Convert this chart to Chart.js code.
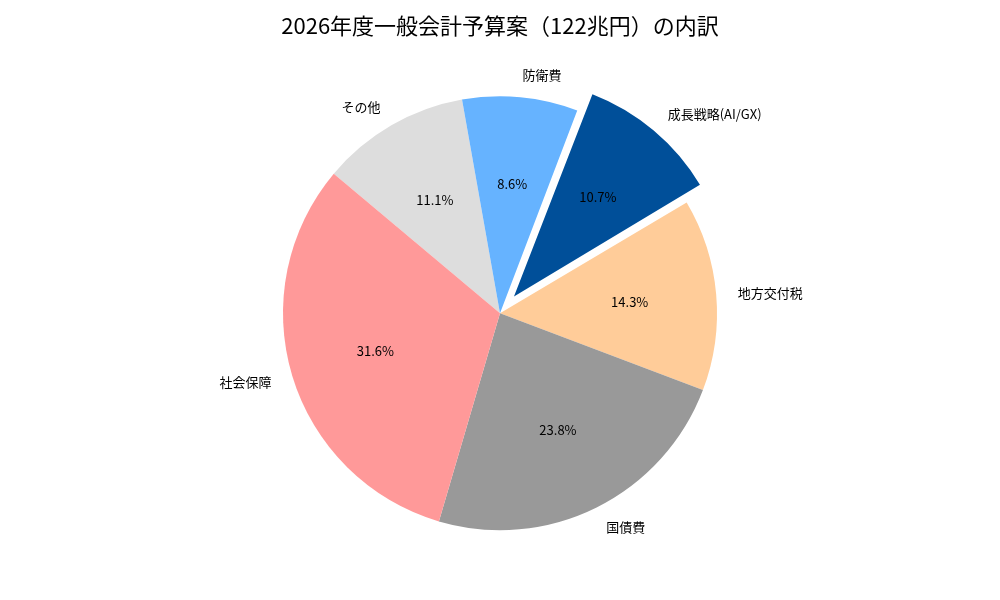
<!DOCTYPE html>
<html lang="ja">
<head>
<meta charset="utf-8">
<script src="https://cdn.jsdelivr.net/npm/chart.js@4.4.1/dist/chart.umd.min.js"></script>
<style>
  html, body { margin: 0; padding: 0; background: #fff; }
  #wrap { width: 1000px; height: 600px; }
</style>
</head>
<body>
<div id="wrap"><canvas id="budgetPie"></canvas></div>
<script>
  // 予算の内訳（%）
  const categories = ['社会保障', '国債費', '地方交付税', '成長戦略(AI/GX)', '防衛費', 'その他'];
  const shares = [31.6, 23.8, 14.3, 10.7, 8.6, 11.1];
  const exploded = ['成長戦略(AI/GX)'];

  const colors = ['#ff9999', '#999999', '#ffcc99', '#004f99', '#66b3ff', '#dddddd'];
  const FONT = '"Noto Sans CJK JP", "Noto Sans", sans-serif';
  const RADIUS = 217;
  const SHIFT = 0.1 * RADIUS; // explode distance

  // matplotlib draws counter-clockwise, Chart.js clockwise -> reverse order
  const labels = categories.slice().reverse();
  const values = shares.slice().reverse();
  const bg = colors.slice().reverse();
  const offsets = labels.map(l => exploded.includes(l) ? SHIFT * 4 : 0);
  const total = values.reduce((a, b) => a + b, 0);

  // Chart.js enlarges an offset arc a little; keep it at the same radius
  const keepRadius = {
    id: 'keepRadius',
    afterDatasetsUpdate(chart) {
      chart.getDatasetMeta(0).data.forEach(arc => {
        const shift = (arc.options.offset || 0) / 4;
        if (!shift) return;
        const circ = arc.endAngle - arc.startAngle;
        const fix = 1 - Math.sin(Math.min(Math.PI, circ));
        arc.outerRadius = RADIUS - shift * fix;
      });
    }
  };

  const pieLabels = {
    id: 'pieLabels',
    afterDatasetsDraw(chart) {
      const ctx = chart.ctx;
      ctx.save();
      ctx.fillStyle = '#000';
      ctx.textBaseline = 'middle';
      chart.getDatasetMeta(0).data.forEach((arc, i) => {
        const mid = (arc.startAngle + arc.endAngle) / 2;
        const shift = (arc.options.offset || 0) / 4;
        const cx = arc.x + Math.cos(mid) * shift;
        const cy = arc.y + Math.sin(mid) * shift;

        // category label
        ctx.font = '13px ' + FONT;
        const lx = cx + Math.cos(mid) * RADIUS * 1.1;
        const ly = cy + Math.sin(mid) * RADIUS * 1.1;
        ctx.textAlign = Math.cos(mid) > 0 ? 'left' : 'right';
        ctx.fillText(labels[i], lx, ly);

        // percentage
        const px = cx + Math.cos(mid) * RADIUS * 0.6;
        const py = cy + Math.sin(mid) * RADIUS * 0.6;
        ctx.textAlign = 'center';
        ctx.fillText((values[i] / total * 100).toFixed(1) + '%', px, py);
      });
      ctx.restore();
    }
  };

  new Chart(document.getElementById('budgetPie'), {
    type: 'pie',
    data: {
      labels: labels,
      datasets: [{
        data: values,
        backgroundColor: bg,
        borderWidth: 0,
        offset: offsets
      }]
    },
    options: {
      responsive: true,
      maintainAspectRatio: false,
      animation: false,
      rotation: -50,
      radius: RADIUS,
      layout: { padding: { bottom: 12 } },
      plugins: {
        legend: { display: false },
        tooltip: { enabled: false },
        title: {
          display: true,
          text: '2026年度一般会計予算案（122兆円）の内訳',
          color: '#000',
          font: { family: FONT, size: 22, weight: 'normal' },
          padding: { top: 12, bottom: 0 }
        }
      }
    },
    plugins: [keepRadius, pieLabels]
  });
</script>
</body>
</html>
